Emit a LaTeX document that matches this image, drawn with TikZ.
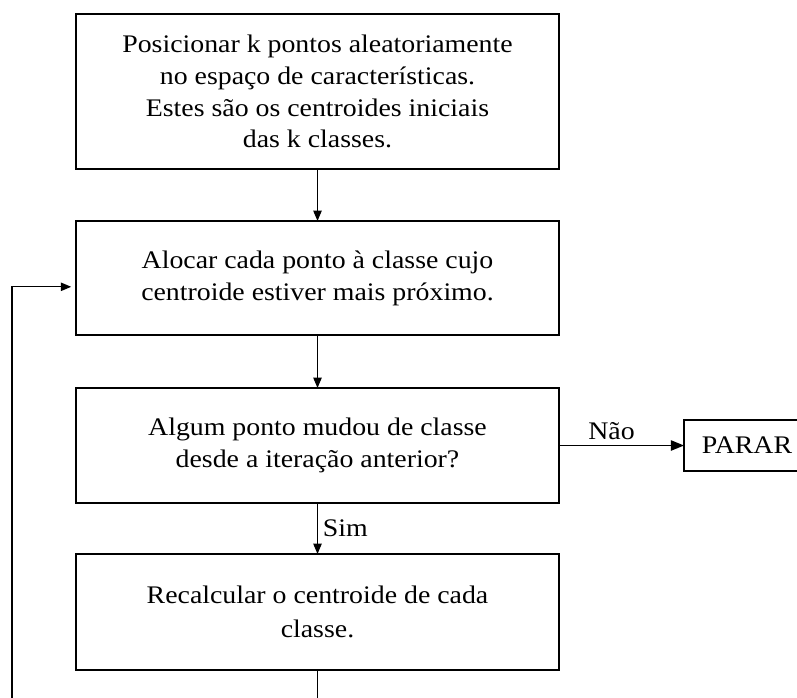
\documentclass[tikz,border=0pt]{standalone}
\usepackage{fontspec}
\setmainfont{Liberation Serif}[FakeStretch=1.1]
\usetikzlibrary{%
    positioning,
    arrows.meta
%   shapes, calc
}
\tikzset{
    etapa/.style = {
        rectangle, draw=black, line width=0.9pt,
        font=\fontsize{18pt}{22.7pt}\selectfont,
        align=center,
        minimum width = 12.075cm,
        outer sep=0pt,
    },
    rotulo/.style = {
        font=\fontsize{18pt}{22.7pt}\selectfont,
    },
    seta/.style = {
        line width=0.9pt,
        -{Triangle[length=2.6mm, width=2.1mm]}
    }
}

\begin{document}
\begin{tikzpicture}
    \useasboundingbox (0, 0) rectangle (19.925, -17.425);
    \clip (0, 0) rectangle (19.925, -17.425);
    \node[
        etapa,
        minimum height = 3.875cm
    ] (posicionar) at (7.9375, -2.2875) {Posicionar k pontos aleatoriamente\\
        no espaço de características.\\
        Estes são os centroides iniciais\\
        das k classes.};
    \node[
        etapa,
        minimum height = 2.85cm,
        below=1.3cm of posicionar
    ] (alocar) {Alocar cada ponto à classe cujo\\
        centroide estiver mais próximo.};
    \node[
        etapa,
        minimum height = 2.875cm,
        below=1.325cm of alocar
    ] (mudou) {Algum ponto mudou de classe\\
        desde a iteração anterior?};
    \node[
        etapa,
        minimum height = 2.9cm,
        below=1.275cm of mudou
    ] (recalcular) {Recalcular o centroide de cada\\[2pt]
        classe.};
    \node[
        etapa,
        minimum width = 3.15cm,
        minimum height = 1.275cm,
        right=3.125cm of mudou
    ] (parar) {PARAR};
    % coordenada do retorno (fora da figura)
    \coordinate (retorno) at (0.3, -18.5);

    \draw[seta] (posicionar) -- (alocar);
    \draw[seta] (alocar) -- (mudou);
    \draw[seta] (mudou) -- node[rotulo, right] {Sim} (recalcular);
    \draw[seta, -{Triangle[length=3.3mm, width=2.6mm]}] (mudou)
        -- node[rotulo, above, pos=0.42] {Não} (parar);
    \draw[seta, shorten >=0.12cm] (recalcular.south) -- (recalcular.south |- retorno)
        -- (retorno) |- ([yshift=-0.22cm]alocar.west);
\end{tikzpicture}
\end{document}
